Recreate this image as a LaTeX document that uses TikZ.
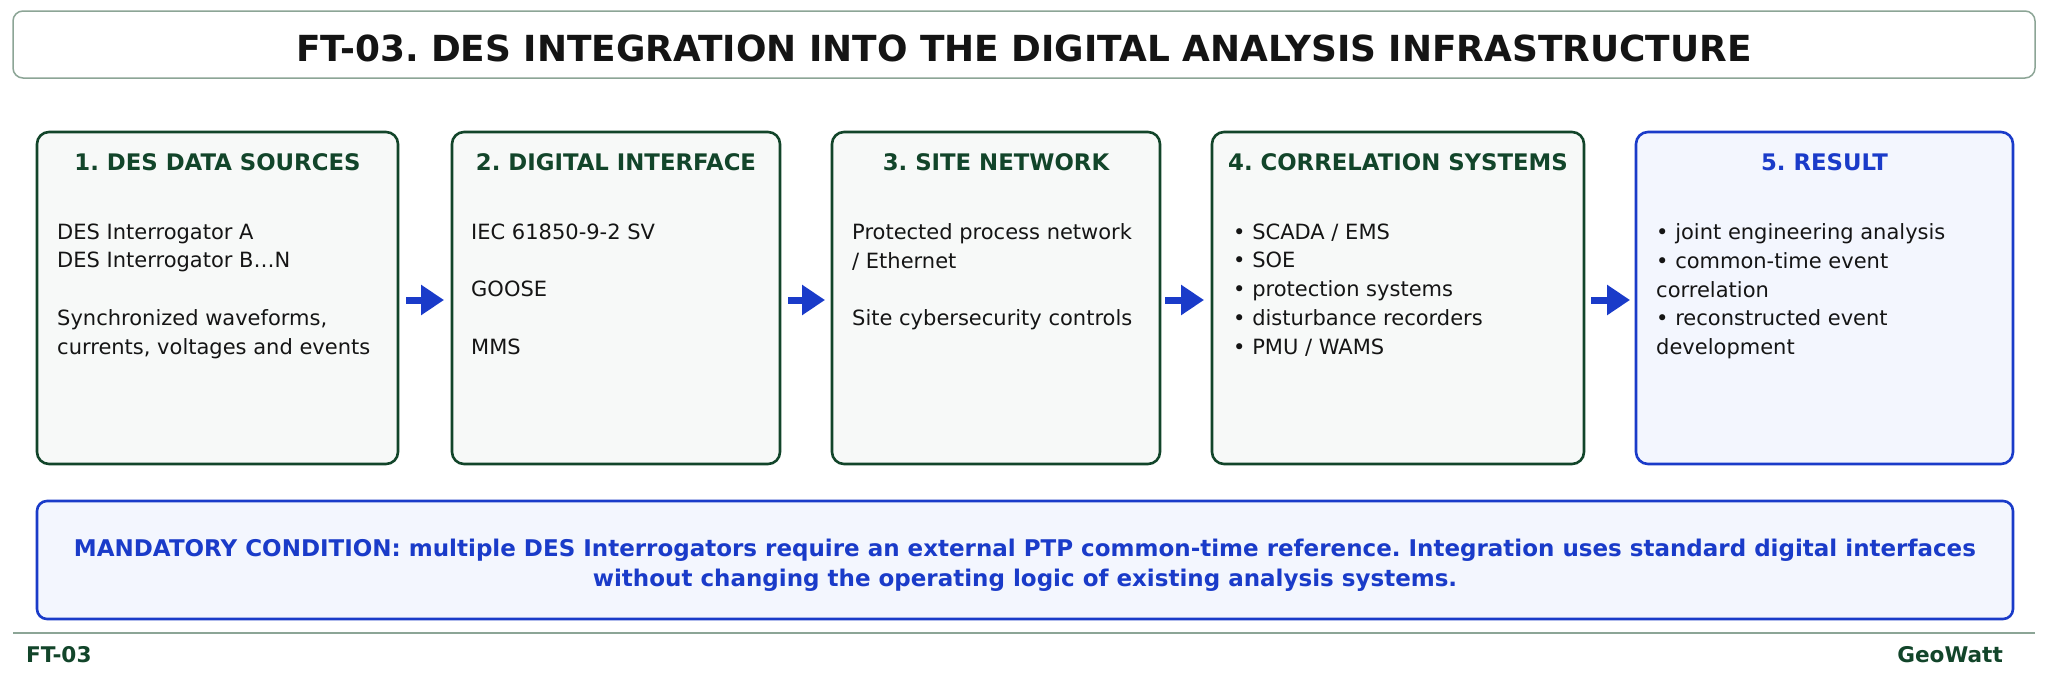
\documentclass[tikz,border=0pt]{standalone}
\usepackage{fontspec}
\setmainfont{DejaVu Sans}
\usetikzlibrary{arrows.meta}
\frenchspacing
\definecolor{dgreen}{HTML}{12452A}
\definecolor{frame}{HTML}{8CA596}
\definecolor{boxfill}{HTML}{F7F9F8}
\definecolor{blue1}{HTML}{1A3BC9}
\definecolor{bluefill}{HTML}{F3F6FE}
\definecolor{txt}{HTML}{151515}
\begin{document}
\begin{tikzpicture}[x=1pt,y=-1pt,
  stagebox/.style={draw=dgreen,line width=2.6pt,fill=boxfill,rounded corners=12pt},
  resbox/.style={draw=blue1,line width=2.6pt,fill=bluefill,rounded corners=12pt},
  headtxt/.style={font=\bfseries\fontsize{22.8}{26}\selectfont\frenchspacing,text=dgreen,inner sep=0pt},
  bodytxt/.style={font=\fontsize{21}{28.7}\selectfont,text=txt,align=left,inner sep=0pt,anchor=north west},
  flow/.style={draw=blue1,line width=7pt,-{Triangle[length=23pt,width=29pt]}},
  foot/.style={font=\bfseries\fontsize{21.6}{24}\selectfont,text=dgreen,inner sep=0pt}]
\useasboundingbox (0,0) rectangle (2048,680);
\fill[white] (0,0) rectangle (2048,680);
% title
\draw[draw=frame,line width=1.5pt,rounded corners=10pt] (13,11) rectangle (2035,78);
\node[font=\bfseries\fontsize{35.9}{40}\selectfont\frenchspacing,text=black!92,inner sep=0pt] (title) at (1024,48.5) {FT-03. DES INTEGRATION INTO THE DIGITAL ANALYSIS INFRASTRUCTURE};
% boxes
\draw[stagebox] (37,132) rectangle (398,464);
\coordinate (b1w) at (37,300); \coordinate (b1e) at (398,300);
\draw[stagebox] (452,132) rectangle (780,464);
\coordinate (b2w) at (452,300); \coordinate (b2e) at (780,300);
\draw[stagebox] (832,132) rectangle (1160,464);
\coordinate (b3w) at (832,300); \coordinate (b3e) at (1160,300);
\draw[stagebox] (1212,132) rectangle (1584,464);
\coordinate (b4w) at (1212,300); \coordinate (b4e) at (1584,300);
\draw[resbox] (1636,132) rectangle (2013,464);
\coordinate (b5w) at (1636,300); \coordinate (b5e) at (2013,300);
% headings
\node[headtxt] (h1) at (217.5,162) {1. DES DATA SOURCES};
\node[headtxt] (h2) at (616,162) {2. DIGITAL INTERFACE};
\node[headtxt] (h3) at (996,162) {3. SITE NETWORK};
\node[headtxt] (h4) at (1398,162) {4. CORRELATION SYSTEMS};
\node[headtxt,text=blue1] (h5) at (1824.5,162) {5. RESULT};
% bodies
\node[bodytxt] (t1) at (57,223.5) {DES Interrogator A\\DES Interrogator B\ldots N\\[28.7pt]Synchronized waveforms,\\currents, voltages and events};
\node[bodytxt] (t2) at (471,223.5) {IEC 61850-9-2 SV\\[28.7pt]GOOSE\\[28.7pt]MMS};
\node[bodytxt] (t3) at (852,223.5) {Protected process network\\/ Ethernet\\[28.7pt]Site cybersecurity controls};
\node[bodytxt] (t4) at (1233,223.5) {• SCADA / EMS\\• SOE\\• protection systems\\• disturbance recorders\\• PMU / WAMS};
\node[bodytxt] (t5) at (1656,223.5) {• joint engineering analysis\\• common-time event\\correlation\\• reconstructed event\\development};
% arrows
\draw[flow] ([xshift=8pt]b1e) -- ([xshift=-8pt]b2w);
\draw[flow] ([xshift=8pt]b2e) -- ([xshift=-7pt]b3w);
\draw[flow] ([xshift=5pt]b3e) -- ([xshift=-8pt]b4w);
\draw[flow] ([xshift=7pt]b4e) -- ([xshift=-6pt]b5w);
% condition
\draw[resbox,rounded corners=10pt] (37,501) rectangle (2013,619);
\node[font=\bfseries\fontsize{23}{30}\selectfont\frenchspacing,text=blue1,align=center,inner sep=0pt] (cond) at (1025,565) {MANDATORY CONDITION: multiple DES Interrogators require an external PTP common-time reference. Integration uses standard digital interfaces\\without changing the operating logic of existing analysis systems.};
% footer
\draw[draw=frame,line width=2pt] (13,633) -- (2035,633);
\node[foot,anchor=west] (f1) at (26,655) {FT-03};
\node[foot,anchor=east] (f2) at (2003,655) {GeoWatt};
\end{tikzpicture}
\end{document}
